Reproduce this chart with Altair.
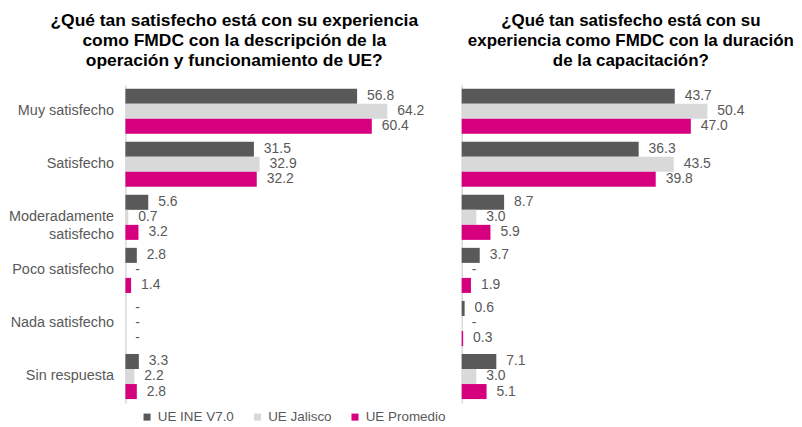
import altair as alt
import pandas as pd

categories = ["Muy satisfecho", "Satisfecho", "Moderadamente satisfecho",
              "Poco satisfecho", "Nada satisfecho", "Sin respuesta"]
series = ["UE INE V7.0", "UE Jalisco", "UE Promedio"]
colors = ["#595959", "#D9D9D9", "#D6007F"]

left_ine = [56.8, 31.5, 5.6, 2.8, 0.0, 3.3]
left_jal = [64.2, 32.9, 0.7, 0.0, 0.0, 2.2]
left_pro = [60.4, 32.2, 3.2, 1.4, 0.0, 2.8]

right_ine = [43.7, 36.3, 8.7, 3.7, 0.6, 7.1]
right_jal = [50.4, 43.5, 3.0, 0.0, 0.0, 3.0]
right_pro = [47.0, 39.8, 5.9, 1.9, 0.3, 5.1]

left_title = ["¿Qué tan satisfecho  está con su experiencia",
              "como FMDC con la descripción de la",
              "operación y funcionamiento de UE?"]
right_title = ["¿Qué tan satisfecho  está con su",
               "experiencia como FMDC con la duración",
               "de la capacitación?"]

FONT = "Liberation Sans"


def make_df(vals):
    rows = []
    for s, arr in zip(series, vals):
        for c, v in zip(categories, arr):
            rows.append({"category": c, "series": s, "value": v,
                         "label": "-" if v == 0 else f"{v:.1f}"})
    return pd.DataFrame(rows)


legend = alt.Legend(title=None, orient="none", direction="horizontal",
                    legendX=15, legendY=327, symbolType="square",
                    symbolSize=50, labelFont=FONT, labelFontSize=13.5,
                    labelColor="#595959", columnPadding=16, labelOffset=4,
                    symbolStrokeWidth=0)


def panel(df, domain_max, width, title, show_labels, dx, tsize):
    y = alt.Y("category:N", sort=categories, title=None,
              scale=alt.Scale(paddingInner=0.15, paddingOuter=0.075),
              axis=alt.Axis(labels=show_labels, ticks=False, domain=True,
                            domainColor="#D9D9D9", domainWidth=1.5,
                            labelFont=FONT, labelFontSize=14.5,
                            labelColor="#595959", labelPadding=12,
                            labelLineHeight=18,
                            labelExpr="datum.value == 'Moderadamente satisfecho' ? ['Moderadamente', 'satisfecho'] : datum.value"))
    yoff = alt.YOffset("series:N", sort=series,
                       scale=alt.Scale(paddingInner=0, paddingOuter=0))
    x = alt.X("value:Q", scale=alt.Scale(domain=[0, domain_max]),
              axis=None, title=None)
    base = alt.Chart(df)
    bars = base.mark_bar().encode(
        x=x, y=y, yOffset=yoff,
        color=alt.Color("series:N", sort=series,
                        scale=alt.Scale(domain=series, range=colors),
                        legend=legend),
    )
    text = base.mark_text(align="left", baseline="middle", dx=10,
                          font=FONT, fontSize=14, color="#595959").encode(
        x=x, y=y, yOffset=yoff, text="label:N")
    return alt.layer(bars, text).properties(
        width=width, height=320,
        title=alt.TitleParams(text=title, font=FONT, fontSize=tsize,
                              fontWeight="bold", color="black",
                              anchor="middle", frame="bounds",
                              lineHeight=20, offset=15, dx=dx))


left = panel(make_df([left_ine, left_jal, left_pro]), 70, 287,
             left_title, True, 18, 17.5)
right = panel(make_df([right_ine, right_jal, right_pro]), 60, 294,
              right_title, False, 23, 17)

chart = alt.hconcat(left, right, spacing=37).properties(
    background="white",
    padding={"left": 0, "top": 3, "right": 0, "bottom": 0},
).configure_view(strokeWidth=0, stroke="transparent")

chart.save("out.html", embed_options={"renderer": "svg", "actions": False})
